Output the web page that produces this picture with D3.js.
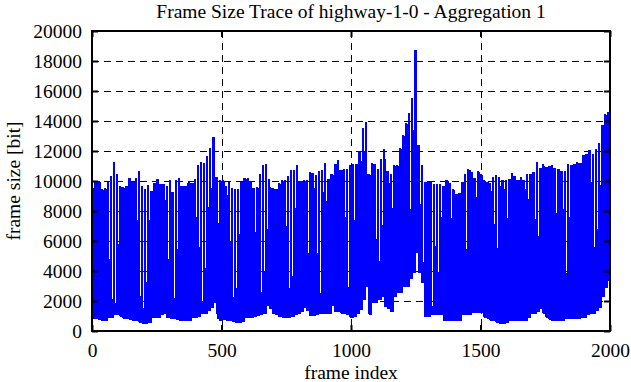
<!DOCTYPE html>
<html><head><meta charset="utf-8">
<script src="https://cdn.jsdelivr.net/npm/d3@7"></script>
<style>
body{margin:0;background:#fff}
text{font-family:"Liberation Serif","Times New Roman",serif;font-size:19.5px;fill:#000}
</style>
</head><body><svg id="c" width="631" height="382"></svg>
<script>
// Per-GOP (12 frames) values
const gopPeaks = [
 9700,10000,10000,9450,9500,9950,10300,11250,10450,9650, 9570,9650,10200,9950,10200,10650,9650,9450,9720,9320,
 9880,10120,9790,9790,9650,10050,9250,10050,10200,9650, 9650,9950,9860,10120,11050,11250,11190,11650,12200,12900,
 10250,10050,
 10050,9650,9920,9520,9450,9450,9920,10200,10200,10000, 9520,9590,10450,11050,11120,10120,9520,9450,9860,10050,
 10050,10300,10720,10720,11050,10000,10050,10050,10590,10520, 10390,10650,10720,11190,10120,10450,11120,11390,10720,10790,
 10790,11050,
 11100,11100,12030,13560,13960,10450,11230,11160,10830,11450, 12140,10670,10450,11040,11080,12180,13070,13880,14530,15520,
 18750,12430,11040,9950,10000,10000,9800,9800,9800,9640, 10040,9860,9480,9130,9200,9950,10450,10790,10630,10200,
 10670,10450,
 10050,9920,9860,10260,10390,10260,10050,10050,10120,10520, 10320,10050,10260,10050,10450,10450,10590,11250,10850,11120,
 10920,10990,11050,10850,10790,10650,10650,11120,11050,11120, 11250,11190,11720,11790,12050,11790,12120,12520,13720,14450,
 14590
];
const gopDips = [
 9500,10000,9900,9400,9450,4800,2100,1850,5800,9600, 9550,9600,9950,9900,7400,2330,1500,3260,7400,9300,
 9800,9800,9790,8700,4800,9250,2180,5460,9650,9650, 9650,9860,9850,7600,5600,2020,4200,8250,2400,10250,
 800,10000,
 10000,9050,5950,2290,1850,3890,7600,10100,10000,9500, 6600,9500,2620,3950,6170,9500,9450,9450,9800,10000,
 7000,2840,3690,8200,10000,10000,10000,5170,10500,9520, 5220,2550,9240,6390,10100,10400,11100,10720,10700,7600,
 2950,11000,
 3800,9200,9200,12000,10450,10400,11100,6160,4670,4670, 4120,6000,8220,11000,11000,12100,13000,13800,7660,7660,
 6780,7890,3900,9950,10000,1680,5670,2570,7110,5450, 10000,7550,9400,9100,9200,9900,5450,10700,4780,2130,
 10600,10400,
 10000,9900,9350,7130,2460,2060,3460,7550,10100,10300, 10050,10050,10050,9460,5060,3170,1890,6330,10850,10990,
 10900,10990,10850,7550,2950,2060,3350,7610,11050,11100, 11190,11190,11700,6060,3110,2620,6790,9720,13700,14400,
 14500
];
const gopLows = [
 850,850,800,750,730,950,950,1100,1100,1000, 840,840,800,730,730,600,520,500,600,900,
 950,950,1100,1170,900,840,840,800,730,730, 730,750,900,950,1000,1170,1200,1400,1620,1950,
 1200,750,
 800,750,730,650,620,600,650,900,950,950, 1000,1060,1100,1170,1700,1500,1170,1100,1000,950,
 950,950,1000,1100,1170,1300,1620,1400,1060,1060, 1100,1170,1170,1170,1170,1700,1300,1290,1200,1170,
 1100,950,
 1020,1200,1460,2100,3000,1130,1900,1900,2130,2350, 1680,1500,1350,2350,2570,2570,3000,3000,3500,3900,
 5230,3900,3230,1020,1020,1130,1130,1130,1130,700, 690,690,690,690,700,1130,1130,1130,1240,1240,
 1240,1240,
 950,850,730,730,600,500,500,600,730,730, 730,730,730,730,900,1170,1170,1300,1500,1200,
 950,800,700,700,700,700,840,840,840,840, 840,900,950,1100,1170,1170,1400,1620,2290,2950,
 3400
];
// Which GOP value each of the 12 frame slots takes (P = peak, D = dip, L = low)
const gopPattern = ["P","L","P","L","L","L","L","D","L","L","L","L"];
const frameCount = 2001;
const xTicks = [0,500,1000,1500,2000];
const yTicks = [0,2000,4000,6000,8000,10000,12000,14000,16000,18000,20000];
const titleText = "Frame Size Trace of highway-1-0 - Aggregation 1";
const xLabel = "frame index";
const yLabel = "frame size [bit]";

const frames = [];
gopPeaks.forEach((p, g) => {
  gopPattern.forEach(s => {
    if (frames.length < frameCount)
      frames.push(s === "P" ? p : s === "D" ? gopDips[g] : gopLows[g]);
  });
});

const L = 92, R = 610, T = 31, B = 331;
const svg = d3.select("#c");
const x = d3.scaleLinear().domain([0, 2000]).range([L, R]);
const y = d3.scaleLinear().domain([0, 20000]).range([B, T]);

// grid
const grid = svg.append("g").attr("stroke", "#000").attr("stroke-width", 1).attr("stroke-dasharray", "7,5")
  .attr("shape-rendering", "crispEdges");
grid.selectAll(".gx").data(xTicks.slice(1, -1)).join("line")
  .attr("x1", d => Math.round(x(d)) + 0.5).attr("x2", d => Math.round(x(d)) + 0.5)
  .attr("y1", T).attr("y2", B);
grid.selectAll(".gy").data(yTicks.slice(1, -1)).join("line")
  .attr("y1", d => Math.round(y(d)) + 0.5).attr("y2", d => Math.round(y(d)) + 0.5)
  .attr("x1", L).attr("x2", R);

// data
const line = d3.line().x((d, i) => x(i)).y(d => y(d));
svg.append("path").datum(frames).attr("d", line)
  .attr("fill", "none").attr("stroke", "#0000ff").attr("stroke-width", 1.65)
  .attr("shape-rendering", "crispEdges");

// axes
const tick = 6;
const ax = svg.append("g").attr("transform", `translate(0,${B})`)
  .call(d3.axisBottom(x).tickValues(xTicks).tickSize(-tick).tickPadding(12).tickFormat(d3.format("d")));
const ay = svg.append("g").attr("transform", `translate(${L},0)`)
  .call(d3.axisLeft(y).tickValues(yTicks).tickSize(-tick).tickPadding(10).tickFormat(d3.format("d")));
const at = svg.append("g").attr("transform", `translate(0,${T})`)
  .call(d3.axisTop(x).tickValues(xTicks).tickSize(-tick).tickFormat(""));
const ar = svg.append("g").attr("transform", `translate(${R},0)`)
  .call(d3.axisRight(y).tickValues(yTicks).tickSize(-tick).tickFormat(""));
[ax, ay, at, ar].forEach(g => {
  g.select(".domain").remove();
  g.selectAll("line").attr("stroke", "#000").attr("stroke-width", 2);
  g.selectAll("text").attr("font-family", null).attr("font-size", null).attr("fill", "#000");
});
ay.selectAll("text").attr("dy", "0.33em");

svg.append("rect").attr("x", L).attr("y", T).attr("width", R - L).attr("height", B - T)
  .attr("fill", "none").attr("stroke", "#000").attr("stroke-width", 2);

svg.append("text").attr("x", (L + R) / 2).attr("y", 18).attr("text-anchor", "middle").text(titleText);
svg.append("text").attr("x", (L + R) / 2).attr("y", 379).attr("text-anchor", "middle").text(xLabel);
svg.append("text").attr("transform", `translate(20,${(T + B) / 2}) rotate(-90)`).attr("text-anchor", "middle").text(yLabel);
</script>
</body></html>
